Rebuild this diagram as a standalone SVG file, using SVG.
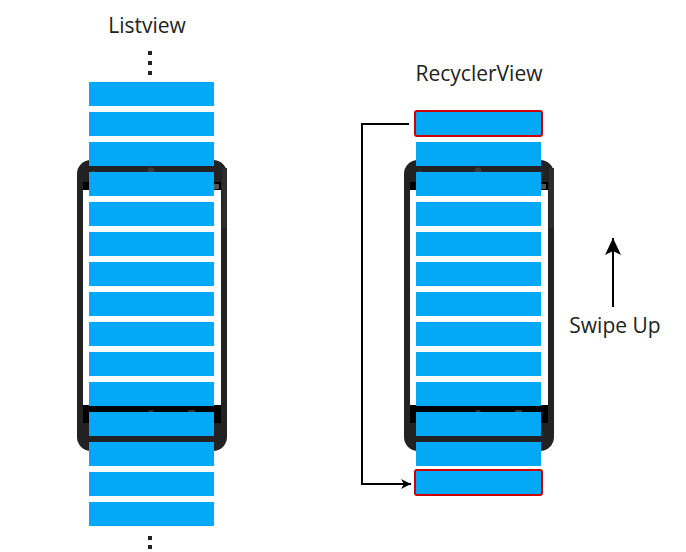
<svg xmlns="http://www.w3.org/2000/svg" xmlns:xlink="http://www.w3.org/1999/xlink" width="686" height="552" viewBox="0 0 686 552">
  <style>
    .lbl { font-family: "Open Sans", "Noto Sans", sans-serif; font-size: 21px; fill: #222; text-anchor: middle; }
    .bar { fill: #03A9F4; }
    .sel { fill: #03A9F4; stroke: #CC0000; stroke-width: 2; }
    .dot { fill: #222; }
    .conn { fill: none; stroke: #000; stroke-width: 2; }
  </style>
  <defs>
    <g id="phone">
      <rect x="77" y="160" width="150" height="291" rx="14" ry="14" fill="#222"/>
      <rect x="222" y="168" width="5" height="60" fill="#2c2c2c"/>
      <rect x="83" y="182" width="138" height="8" fill="#000"/>
      <rect x="83" y="190" width="138" height="215" fill="#fff"/>
      <rect x="83" y="405" width="138" height="18" fill="#000"/>
      <circle cx="151" cy="171" r="3.5" fill="#3a3a3a"/>
      <circle cx="93" cy="172" r="1.5" fill="#3a3a3a"/>
      <rect x="214" y="184" width="5" height="5" fill="#555"/>
      <rect x="104" y="412" width="6" height="3" fill="#333"/>
      <circle cx="151" cy="413" r="3" fill="#333"/>
      <rect x="188" y="410" width="7" height="4" fill="#333"/>
    </g>
    <marker id="ah" viewBox="0 0 10 10" refX="10" refY="5" markerWidth="10" markerHeight="10" markerUnits="userSpaceOnUse" orient="auto">
      <path d="M0,0 L10,5 L0,10 L3,5 Z" fill="#000"/>
    </marker>
    <marker id="ah2" viewBox="0 0 17 16" refX="17" refY="8" markerWidth="17" markerHeight="16" markerUnits="userSpaceOnUse" orient="auto">
      <path d="M0,0 L17,8 L0,16 L4,8 Z" fill="#000"/>
    </marker>
  </defs>

  <g id="listview">
    <text class="lbl" x="147" y="33">Listview</text>
    <use xlink:href="#phone"/>
    <g id="listview-dots-top">
      <rect class="dot" x="148" y="51" width="4" height="4"/>
      <rect class="dot" x="148" y="61" width="4" height="4"/>
      <rect class="dot" x="148" y="71" width="4" height="4"/>
    </g>
    <g id="listview-items">
      <rect class="bar" x="89" y="82" width="125" height="24"/>
      <rect class="bar" x="89" y="112" width="125" height="24"/>
      <rect class="bar" x="89" y="142" width="125" height="24"/>
      <rect class="bar" x="89" y="172" width="125" height="24"/>
      <rect class="bar" x="89" y="202" width="125" height="24"/>
      <rect class="bar" x="89" y="232" width="125" height="24"/>
      <rect class="bar" x="89" y="262" width="125" height="24"/>
      <rect class="bar" x="89" y="292" width="125" height="24"/>
      <rect class="bar" x="89" y="322" width="125" height="24"/>
      <rect class="bar" x="89" y="352" width="125" height="24"/>
      <rect class="bar" x="89" y="382" width="125" height="24"/>
      <rect class="bar" x="89" y="412" width="125" height="24"/>
      <rect class="bar" x="89" y="442" width="125" height="24"/>
      <rect class="bar" x="89" y="472" width="125" height="24"/>
      <rect class="bar" x="89" y="502" width="125" height="24"/>
    </g>
    <g id="listview-dots-bottom">
      <rect class="dot" x="148" y="536" width="4" height="4"/>
      <rect class="dot" x="148" y="545" width="4" height="4"/>
    </g>
  </g>

  <g id="recyclerview">
    <text class="lbl" x="479" y="81">RecyclerView</text>
    <use xlink:href="#phone" transform="translate(327,0)"/>
    <g id="recyclerview-items">
      <rect class="sel" x="415" y="111" width="127" height="25" rx="2"/>
      <rect class="bar" x="416" y="142" width="125" height="24"/>
      <rect class="bar" x="416" y="172" width="125" height="24"/>
      <rect class="bar" x="416" y="202" width="125" height="24"/>
      <rect class="bar" x="416" y="232" width="125" height="24"/>
      <rect class="bar" x="416" y="262" width="125" height="24"/>
      <rect class="bar" x="416" y="292" width="125" height="24"/>
      <rect class="bar" x="416" y="322" width="125" height="24"/>
      <rect class="bar" x="416" y="352" width="125" height="24"/>
      <rect class="bar" x="416" y="382" width="125" height="24"/>
      <rect class="bar" x="416" y="412" width="125" height="24"/>
      <rect class="bar" x="416" y="442" width="125" height="24"/>
      <rect class="sel" x="415" y="470" width="127" height="25" rx="2"/>
    </g>
  </g>

  <g id="swipe-up">
    <text class="lbl" x="615" y="333">Swipe Up</text>
  </g>

  <g id="connectors">
    <path class="conn" d="M409,124 H362 V484 H411" marker-end="url(#ah)"/>
    <path class="conn" d="M613,307 V238" marker-end="url(#ah2)"/>
  </g>
</svg>
